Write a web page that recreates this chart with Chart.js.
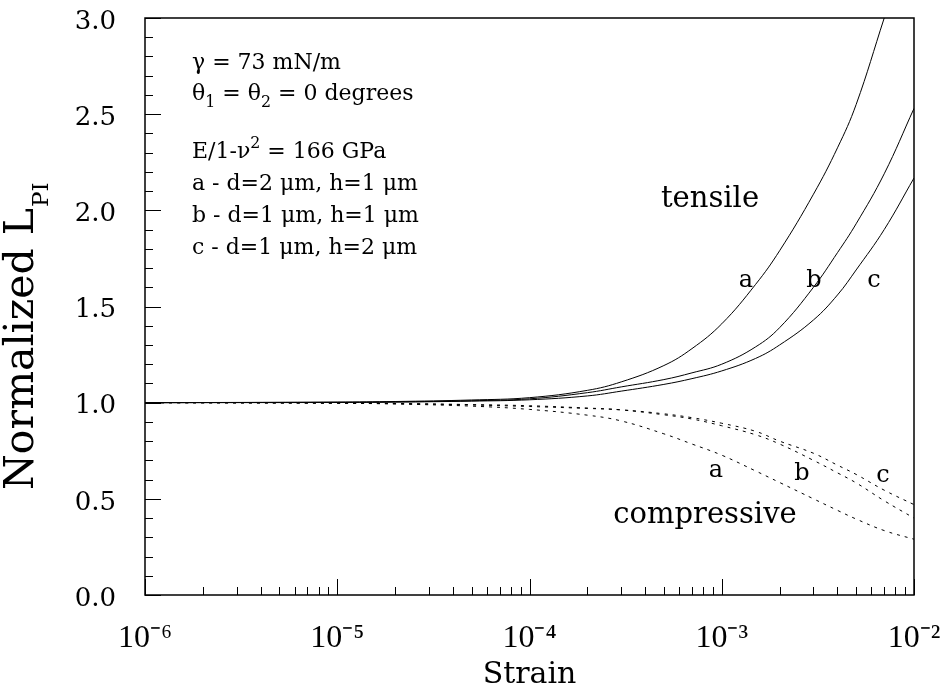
<!DOCTYPE html>
<html>
<head>
<meta charset="utf-8">
<script src="https://cdn.jsdelivr.net/npm/chart.js@4.4.1/dist/chart.umd.min.js"></script>
<style>
  html, body { margin: 0; padding: 0; background: #fff; }
  canvas { display: block; }
</style>
</head>
<body>
<canvas id="c" width="943" height="695"></canvas>
<script>
// ---- data ----
const strain = [1e-6, 1e-5, 2e-5, 5e-5, 1e-4, 2e-4, 3e-4, 5e-4, 7e-4, 1e-3, 1.5e-3, 2e-3, 3e-3, 4e-3, 5e-3, 7e-3, 1e-2];
const tensileA = [1.000, 1.003, 1.006, 1.014, 1.026, 1.064, 1.108, 1.193, 1.281, 1.410, 1.615, 1.790, 2.084, 2.325, 2.550, 3.000, null];
const tensileB = [1.000, 1.002, 1.004, 1.010, 1.020, 1.052, 1.082, 1.120, 1.155, 1.200, 1.290, 1.390, 1.600, 1.780, 1.930, 2.190, 2.530];
const tensileC = [1.000, 1.001, 1.003, 1.008, 1.015, 1.035, 1.060, 1.095, 1.125, 1.165, 1.230, 1.300, 1.430, 1.560, 1.690, 1.900, 2.168];
const compA    = [1.000, 0.997, 0.993, 0.982, 0.965, 0.935, 0.905, 0.838, 0.785, 0.727, 0.645, 0.585, 0.500, 0.440, 0.395, 0.335, 0.290];
const compB    = [1.000, 0.998, 0.995, 0.988, 0.980, 0.970, 0.962, 0.937, 0.915, 0.880, 0.833, 0.785, 0.700, 0.635, 0.583, 0.490, 0.400];
const compC    = [1.000, 0.998, 0.996, 0.990, 0.984, 0.972, 0.963, 0.942, 0.922, 0.893, 0.851, 0.800, 0.737, 0.675, 0.627, 0.545, 0.470];
const xDecades = [1e-6, 1e-5, 1e-4, 1e-3, 1e-2];
const xExponents = ['⁻⁶', '⁻⁵', '⁻⁴', '⁻³', '⁻²'];
const yTicks = [0, 0.5, 1.0, 1.5, 2.0, 2.5, 3.0];
const xTitle = 'Strain';
const yTitleMain = 'Normalized L';
const yTitleSub = 'PI';

function pts(ys) { return strain.map((x, i) => ({ x: x, y: ys[i] })); }

function ds(label, ys, dashed) {
  return {
    label: label, data: pts(ys),
    borderColor: '#000', borderWidth: 1, pointRadius: 0,
    borderDash: dashed ? [3, 5] : [],
    tension: 0.4, fill: false, spanGaps: false
  };
}

const SERIF = '"DejaVu Serif", serif';
const TSERIF = '"Liberation Serif", "Times New Roman", serif';

function drawRich(ctx, x, y, runs, size) {
  let cx = x;
  for (const r of runs) {
    let fs = size, dy = 0;
    if (r.sub) { fs = size * 0.72; dy = size * 0.32; }
    if (r.sup) { fs = size * 0.72; dy = -size * 0.45; }
    ctx.font = fs + 'px ' + SERIF;
    ctx.fillText(r.t, cx, y + dy);
    cx += ctx.measureText(r.t).width;
  }
}

const decor = {
  id: 'decor',
  afterDraw(chart) {
    const ctx = chart.ctx, a = chart.chartArea;
    const xs = chart.scales.x, ys = chart.scales.y;
    ctx.save();
    ctx.strokeStyle = '#000';
    ctx.lineWidth = 1.5;
    ctx.strokeRect(a.left, a.top, a.right - a.left, a.bottom - a.top);
    ctx.lineWidth = 1;
    ctx.beginPath();
    for (let d = -6; d <= -2; d++) {
      for (let m = 1; m <= 9; m++) {
        const v = m * Math.pow(10, d);
        if (v > 1e-2 * 1.0001) break;
        const px = Math.round(xs.getPixelForValue(v)) + 0.5;
        const len = m === 1 ? 16 : 8;
        ctx.moveTo(px, a.bottom);
        ctx.lineTo(px, a.bottom - len);
      }
    }
    for (let k = 0; k <= 30; k++) {
      const v = k / 10;
      const py = Math.round(ys.getPixelForValue(v)) + 0.5;
      const len = (k % 5 === 0) ? 16 : 8;
      ctx.moveTo(a.left, py);
      ctx.lineTo(a.left + len, py);
    }
    ctx.stroke();

    ctx.fillStyle = '#000';
    ctx.textAlign = 'left';
    ctx.textBaseline = 'alphabetic';
    ctx.save();
    ctx.translate(33, 490);
    ctx.rotate(-Math.PI / 2);
    ctx.font = '41px ' + SERIF;
    ctx.fillText(yTitleMain, 0, 0);
    const w = ctx.measureText(yTitleMain).width;
    ctx.font = '23px ' + SERIF;
    ctx.fillText(yTitleSub, w + 1, 15);
    ctx.restore();

    const fs = 22, x0 = 192;
    drawRich(ctx, x0, 69, [{ t: 'γ = 73 mN/m' }], fs);
    drawRich(ctx, x0, 100, [{ t: 'θ' }, { t: '1', sub: true }, { t: ' = θ' }, { t: '2', sub: true }, { t: ' = 0 degrees' }], fs);
    drawRich(ctx, x0, 158, [{ t: 'E/1-ν' }, { t: '2', sup: true }, { t: ' = 166 GPa' }], fs);
    drawRich(ctx, x0, 190, [{ t: 'a - d=2 μm, h=1 μm' }], fs);
    drawRich(ctx, x0, 222, [{ t: 'b - d=1 μm, h=1 μm' }], fs);
    drawRich(ctx, x0, 254, [{ t: 'c - d=1 μm, h=2 μm' }], fs);

    ctx.textAlign = 'center';
    ctx.font = '29px ' + SERIF;
    ctx.fillText('tensile', 710, 207);
    ctx.fillText('compressive', 705, 523);
    ctx.font = '24px ' + SERIF;
    ctx.fillText('a', 746, 287);
    ctx.fillText('b', 814, 287);
    ctx.fillText('c', 874, 287);
    ctx.fillText('a', 716, 477);
    ctx.fillText('b', 802, 480);
    ctx.fillText('c', 883, 482);
    ctx.restore();
  }
};

new Chart(document.getElementById('c'), {
  type: 'line',
  data: {
    datasets: [
      ds('tensile a', tensileA, false),
      ds('tensile b', tensileB, false),
      ds('tensile c', tensileC, false),
      ds('compressive a', compA, true),
      ds('compressive b', compB, true),
      ds('compressive c', compC, true)
    ]
  },
  options: {
    responsive: false,
    animation: false,
    layout: { padding: { top: 18, right: 29, left: 0, bottom: 0 } },
    plugins: { legend: { display: false }, tooltip: { enabled: false } },
    scales: {
      x: {
        type: 'logarithmic', min: 1e-6, max: 1e-2,
        grid: { display: false, drawTicks: false },
        border: { display: false },
        afterBuildTicks: s => { s.ticks = xDecades.map(v => ({ value: v })); },
        afterFit: s => { s.height = 100; s.paddingLeft = 0; s.paddingRight = 0; },
        ticks: {
          autoSkip: false, maxRotation: 0, minRotation: 0, padding: 24,
          color: '#000', font: { family: TSERIF, size: 32 },
          callback: v => { const i = xDecades.findIndex(d => Math.abs(d - v) / d < 1e-6); return i >= 0 ? '10' + xExponents[i] : ''; }
        },
        title: { display: true, text: xTitle, color: '#000', font: { family: SERIF, size: 30 }, padding: { top: 0, bottom: 2 } }
      },
      y: {
        min: 0, max: 3,
        grid: { display: false, drawTicks: false },
        border: { display: false },
        afterBuildTicks: s => { s.ticks = yTicks.map(v => ({ value: v })); },
        afterFit: s => { s.width = 145; s.paddingTop = 0; s.paddingBottom = 0; },
        ticks: {
          padding: 29, labelOffset: 4, color: '#000',
          font: { family: SERIF, size: 26 },
          callback: v => Number(v).toFixed(1)
        }
      }
    }
  },
  plugins: [decor]
});
</script>
</body>
</html>
